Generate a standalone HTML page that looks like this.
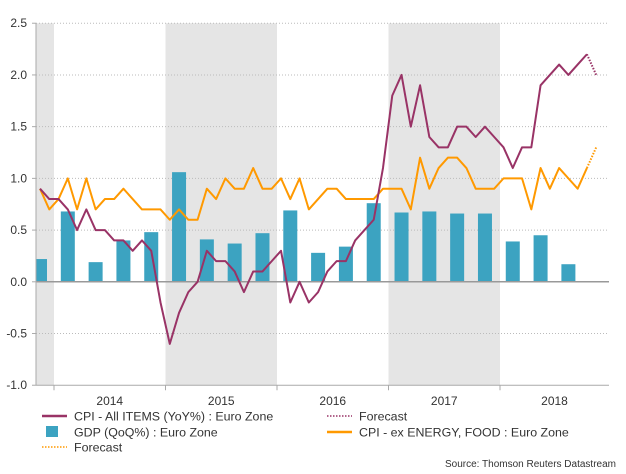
<!DOCTYPE html>
<html><head><meta charset="utf-8"><style>
body{margin:0;background:#fff;font-family:"Liberation Sans",sans-serif;}
svg text{font-family:"Liberation Sans",sans-serif;fill:#333;}
</style></head><body>
<svg id="c" width="626" height="469" xmlns="http://www.w3.org/2000/svg"></svg>
<script>
const cpi=[0.9,0.8,0.8,0.7,0.5,0.7,0.5,0.5,0.4,0.4,0.3,0.4,0.3,-0.2,-0.6,-0.3,-0.1,0.0,0.3,0.2,0.2,0.1,-0.1,0.1,0.1,0.2,0.3,-0.2,0.0,-0.2,-0.1,0.1,0.2,0.2,0.4,0.5,0.6,1.1,1.8,2.0,1.5,1.9,1.4,1.3,1.3,1.5,1.5,1.4,1.5,1.4,1.3,1.1,1.3,1.3,1.9,2.0,2.1,2.0,2.1,2.2];
const cpiForecast=[2.2,2.0];
const core=[0.9,0.7,0.8,1.0,0.7,1.0,0.7,0.8,0.8,0.9,0.8,0.7,0.7,0.7,0.6,0.7,0.6,0.6,0.9,0.8,1.0,0.9,0.9,1.1,0.9,0.9,1.0,0.8,1.0,0.7,0.8,0.9,0.9,0.8,0.8,0.8,0.8,0.9,0.9,0.9,0.7,1.2,0.9,1.1,1.2,1.2,1.1,0.9,0.9,0.9,1.0,1.0,1.0,0.7,1.1,0.9,1.1,1.0,0.9,1.1];
const coreForecast=[1.1,1.3];
const gdp=[0.22,0.68,0.19,0.40,0.48,1.06,0.41,0.37,0.47,0.69,0.28,0.34,0.76,0.67,0.68,0.66,0.66,0.39,0.45,0.17];
const yTicks=[2.5,2.0,1.5,1.0,0.5,0.0,-0.5,-1.0];
const years=["2014","2015","2016","2017","2018"];
const NS="http://www.w3.org/2000/svg";
const svg=document.getElementById('c');
const L=36,R=609,X0=40,DX=9.27;
const y=v=>281.8-v*103.43;
const x=i=>X0+i*DX;
const yb=i=>54+i*111.5;
function mk(t,a,p){const e=document.createElementNS(NS,t);for(const k in a)e.setAttribute(k,a[k]);(p||svg).appendChild(e);return e;}
[[L,54],[yb(1),yb(2)],[yb(3),yb(4)]].forEach(s=>{
 const r=mk('rect',{x:s[0],y:y(2.5),width:s[1]-s[0],height:y(-1)-y(2.5),fill:'#e5e5e5'});
 
 
});
yTicks.forEach(v=>{
 if(v!==0&&v!==-1){const g=mk('line',{x1:L,x2:R,y1:y(v),y2:y(v),stroke:'#bbb','stroke-dasharray':'1,2'});
 
 }
 const t=mk('text',{x:27,y:y(v)+4,'text-anchor':'end','font-size':12});t.textContent=v.toFixed(1);
 
 
});
gdp.forEach((v,k)=>{
 let cx=x(k*3),x1=Math.max(L,cx-7),x2=cx+7;
 const b=mk('rect',{x:x1,y:Math.min(y(v),y(0)),width:x2-x1,height:Math.abs(y(v)-y(0)),fill:'#3ca3c1'});
 
 
});
const z=mk('line',{x1:L,x2:R,y1:y(0),y2:y(0),stroke:'#999','stroke-width':1.5});


function line(arr,off,col,dash,name){
 const p=mk('polyline',{points:arr.map((v,i)=>x(i+off)+','+y(v)).join(' '),fill:'none',stroke:col,'stroke-width':2,'stroke-linejoin':'round'});
 if(dash)p.setAttribute('stroke-dasharray','1.5,1.5');
 
 
}
line(core,0,'#ff9900',false,'core-cpi-line');
line(coreForecast,59,'#ff9900',true,'core-cpi-forecast');
line(cpi,0,'#993366',false,'cpi-line');
line(cpiForecast,59,'#993366',true,'cpi-forecast');
mk('line',{x1:L,x2:L,y1:y(2.5),y2:y(-1),stroke:'#aaa'});
mk('line',{x1:L,x2:R,y1:y(-1),y2:y(-1),stroke:'#aaa'});
yTicks.forEach(v=>mk('line',{x1:L-4,x2:L,y1:y(v),y2:y(v),stroke:'#aaa'}));
for(let i=0;i<5;i++)mk('line',{x1:yb(i),x2:yb(i),y1:y(-1),y2:y(-1)+5,stroke:'#aaa'});
years.forEach((s,i)=>{const t=mk('text',{x:(i<4?yb(i)+55.75:(yb(4)+R)/2),y:405,'text-anchor':'middle','font-size':12});t.textContent=s;
 
 });
function leg(lx,ly,type,col,label,name){
 const g=mk('g',{});
 
 
 if(type==='box')mk('rect',{x:lx+4,y:ly-6,width:12,height:11,fill:col},g);
 else{const l=mk('line',{x1:lx,x2:lx+25,y1:ly,y2:ly,stroke:col,'stroke-width':type==='dot'?1.5:2.5},g);if(type==='dot')l.setAttribute('stroke-dasharray','1.5,1.5');}
 const t=mk('text',{x:lx+32,y:ly+4.5,'font-size':12.4},g);t.textContent=label;
}
leg(42,416,'line','#993366','CPI - All ITEMS (YoY%) : Euro Zone','legend-cpi');
leg(327,416,'dot','#993366','Forecast','legend-cpi-forecast');
leg(42,432,'box','#3ca3c1','GDP (QoQ%) : Euro Zone','legend-gdp');
leg(327,432,'line','#ff9900','CPI - ex ENERGY, FOOD : Euro Zone','legend-core-cpi');
leg(42,447,'dot','#ff9900','Forecast','legend-core-forecast');
const s=mk('text',{x:616,y:467,'text-anchor':'end','font-size':10});s.textContent='Source: Thomson Reuters Datastream';


</script>
</body></html>
